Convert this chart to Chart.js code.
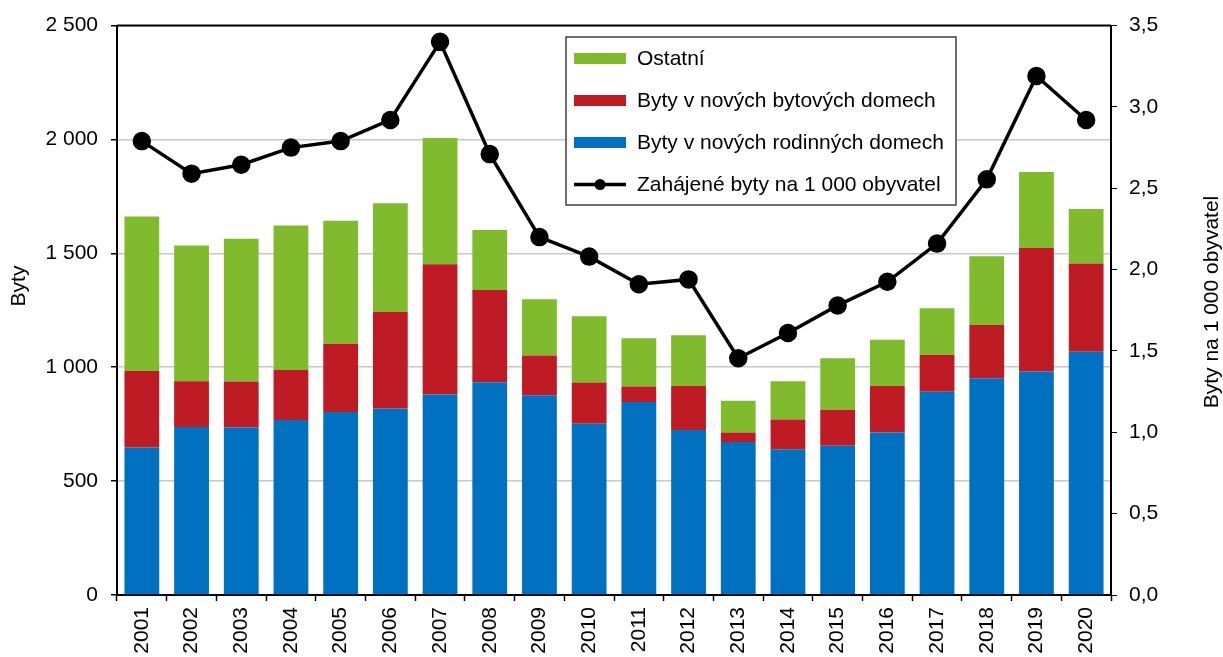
<!DOCTYPE html>
<html lang="cs">
<head>
<meta charset="utf-8">
<title>Zahájené byty</title>
<script src="https://cdn.jsdelivr.net/npm/chart.js@4.4.1/dist/chart.umd.min.js"></script>
<style>
  html, body { margin: 0; padding: 0; background: #fff; }
  #graf { display: block; }
</style>
</head>
<body>
<canvas id="graf" width="1223" height="657"></canvas>
<script>
// Data
const roky = ["2001", "2002", "2003", "2004", "2005", "2006", "2007", "2008", "2009", "2010",
  "2011", "2012", "2013", "2014", "2015", "2016", "2017", "2018", "2019", "2020"];
const rodinneDomy = [648, 738, 735, 768, 803, 819, 880, 934, 877, 752, 847, 724, 672, 640, 655, 714, 892, 952, 981, 1068];
const bytoveDomy = [336, 201, 202, 220, 300, 424, 572, 405, 174, 181, 68, 194, 41, 131, 158, 204, 162, 233, 542, 388];
const ostatni = [678, 596, 627, 634, 540, 477, 554, 264, 248, 291, 212, 223, 140, 168, 226, 203, 205, 302, 334, 239];
const naTisic = [2.79, 2.59, 2.645, 2.75, 2.79, 2.92, 3.40, 2.71, 2.20, 2.08, 1.91, 1.94, 1.455, 1.61, 1.78, 1.925, 2.16, 2.555, 3.19, 2.92];

const FONT = "'Liberation Sans', Arial, sans-serif";
Chart.defaults.font.family = FONT;
Chart.defaults.font.size = 21;
Chart.defaults.color = "#000";

const barvy = { modra: "#0070c0", cervena: "#be1b24", zelena: "#80bb2e" };

// popisky os, horni hrana a legenda
const doplnky = {
  id: "doplnky",
  afterDraw(chart) {
    const { ctx, chartArea } = chart;
    ctx.save();
    // horni okraj
    ctx.strokeStyle = "#000";
    ctx.lineWidth = 2;
    ctx.beginPath();
    ctx.moveTo(chartArea.left, chartArea.top);
    ctx.lineTo(chartArea.right, chartArea.top);
    ctx.stroke();

    // nazvy os
    ctx.font = "21px " + FONT;
    ctx.fillStyle = "#000";
    ctx.textAlign = "center";
    ctx.textBaseline = "middle";
    ctx.save();
    ctx.translate(19, 286);
    ctx.rotate(-Math.PI / 2);
    ctx.fillText("Byty", 0, 0);
    ctx.restore();
    ctx.save();
    ctx.translate(1212, 302);
    ctx.rotate(-Math.PI / 2);
    ctx.fillText("Byty na 1 000 obyvatel", 0, 0);
    ctx.restore();

    // legenda
    const x0 = 566, y0 = 37, w = 390, h = 168;
    ctx.fillStyle = "#fff";
    ctx.fillRect(x0, y0, w, h);
    ctx.strokeStyle = "#404040";
    ctx.lineWidth = 1.5;
    ctx.strokeRect(x0, y0, w, h);
    const ds = chart.data.datasets;
    const poradi = [2, 1, 0, 3];
    poradi.forEach((i, r) => {
      const cy = 58.5 + r * 42;
      const d = ds[i];
      if (d.type === "line") {
        ctx.strokeStyle = d.borderColor;
        ctx.lineWidth = 3.5;
        ctx.beginPath();
        ctx.moveTo(574, cy);
        ctx.lineTo(626, cy);
        ctx.stroke();
        ctx.fillStyle = d.pointBackgroundColor;
        ctx.beginPath();
        ctx.arc(600, cy, 5.5, 0, Math.PI * 2);
        ctx.fill();
      } else {
        ctx.fillStyle = d.backgroundColor;
        ctx.fillRect(574, cy - 5.5, 52, 11);
      }
      ctx.fillStyle = "#000";
      ctx.textAlign = "left";
      ctx.textBaseline = "middle";
      ctx.fillText(d.label, 637, cy + 1);
    });
    ctx.restore();
  }
};

const tisice = v => String(v).replace(/\B(?=(\d{3})+(?!\d))/g, "\u00a0");

new Chart(document.getElementById("graf"), {
  type: "bar",
  data: {
    labels: roky,
    datasets: [
      { label: "Byty v nových rodinných domech", data: rodinneDomy, backgroundColor: barvy.modra, order: 1, yAxisID: "y" },
      { label: "Byty v nových bytových domech", data: bytoveDomy, backgroundColor: barvy.cervena, order: 1, yAxisID: "y" },
      { label: "Ostatní", data: ostatni, backgroundColor: barvy.zelena, order: 1, yAxisID: "y" },
      {
        type: "line",
        label: "Zahájené byty na 1 000 obyvatel",
        data: naTisic,
        yAxisID: "y1",
        borderColor: "#000",
        borderWidth: 3.5,
        pointRadius: 7.5,
        pointBackgroundColor: "#000",
        pointBorderColor: "#000",
        tension: 0,
        order: 0
      }
    ]
  },
  options: {
    responsive: false,
    animation: false,
    categoryPercentage: 1,
    barPercentage: 0.7,
    layout: { padding: { top: 24, left: 0, right: 0, bottom: 0 } },
    plugins: { legend: { display: false }, tooltip: { enabled: false } },
    scales: {
      x: {
        stacked: true,
        afterFit: s => { s.height = 62; },
        grid: { offset: true, drawOnChartArea: false, tickLength: 6, tickColor: "#000", tickWidth: 1.5 },
        border: { color: "#000", width: 2 },
        ticks: { minRotation: 90, maxRotation: 90, padding: 6 }
      },
      y: {
        stacked: true,
        min: 0,
        max: 2500,
        afterFit: s => { s.width = 117; },
        grid: { color: "#c8c8c8", lineWidth: 1.5, tickLength: 6, tickColor: "#000" },
        border: { color: "#000", width: 2 },
        ticks: { stepSize: 500, padding: 13, callback: v => tisice(v) }
      },
      y1: {
        position: "right",
        min: 0,
        max: 3.5,
        afterFit: s => { s.width = 112; },
        grid: { drawOnChartArea: false, tickLength: 6, tickColor: "#000" },
        border: { color: "#000", width: 2 },
        ticks: { stepSize: 0.5, padding: 12, callback: v => v.toFixed(1).replace(".", ",") }
      }
    }
  },
  plugins: [doplnky]
});
</script>
</body>
</html>
